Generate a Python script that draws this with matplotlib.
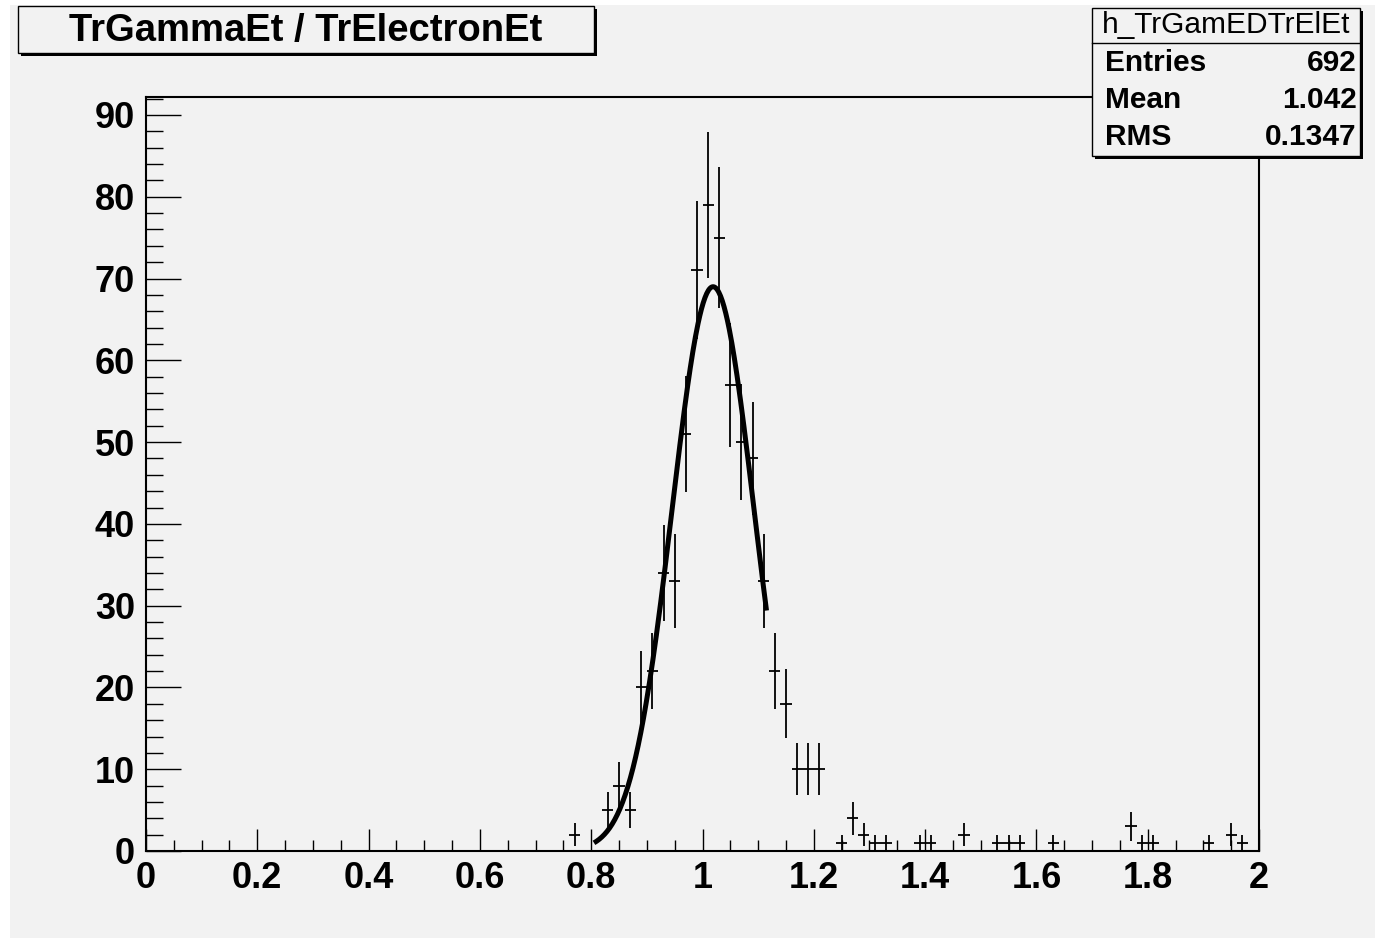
import numpy as np
import matplotlib
matplotlib.use("Agg")
import matplotlib.pyplot as plt
from matplotlib.patches import Rectangle

# ---------------- data ----------------
bin_centers = [0.77, 0.83, 0.85, 0.87, 0.89, 0.91, 0.93, 0.95, 0.97, 0.99,
               1.01, 1.03, 1.05, 1.07, 1.09, 1.11, 1.13, 1.15, 1.17, 1.19,
               1.21, 1.25, 1.27, 1.29, 1.31, 1.33, 1.39, 1.41, 1.47, 1.53,
               1.55, 1.57, 1.63, 1.77, 1.79, 1.81, 1.91, 1.95, 1.97]
counts = [2, 5, 8, 5, 20, 22, 34, 33, 51, 71,
          79, 75, 57, 50, 48, 33, 22, 18, 10, 10,
          10, 1, 4, 2, 1, 1, 1, 1, 2, 1,
          1, 1, 1, 3, 1, 1, 1, 2, 1]
bin_half_width = 0.01

# Gaussian fit parameters
fit_amp = 69.0
fit_mean = 1.019
fit_sigma = 0.0735
fit_range = (0.805, 1.115)

title_text = "TrGammaEt / TrElectronEt"
stats_name = "h_TrGamEDTrElEt"
stats_labels = ["Entries", "Mean", "RMS"]
stats_values = ["692", "1.042", "0.1347"]

x_major = [0, 0.2, 0.4, 0.6, 0.8, 1, 1.2, 1.4, 1.6, 1.8, 2]
x_major_labels = ["0", "0.2", "0.4", "0.6", "0.8", "1", "1.2", "1.4", "1.6", "1.8", "2"]
y_major = [0, 10, 20, 30, 40, 50, 60, 70, 80, 90]

# ---------------- figure ----------------
W, H = 1378, 942
DPI = 100
BG = "#f2f2f2"
FONT = ["Liberation Sans", "DejaVu Sans"]

fig = plt.figure(figsize=(W / DPI, H / DPI), dpi=DPI, facecolor="white")


def fx(px):
    return px / W


def fy(py):
    return 1 - py / H


# canvas gray area
fig.patches.append(Rectangle((fx(10), fy(938)), fx(1375) - fx(10), fy(5) - fy(938),
                             transform=fig.transFigure, facecolor=BG, edgecolor="none", zorder=-10))

ax = fig.add_axes([fx(146), fy(851), fx(1259) - fx(146), fy(97) - fy(851)])
ax.set_zorder(1)
ax.set_facecolor(BG)
ax.set_xlim(0, 2)
ax.set_ylim(0, 92.2)

x = np.array(bin_centers)
y = np.array(counts, dtype=float)
ax.errorbar(x, y, xerr=bin_half_width, yerr=np.sqrt(y), fmt="none",
            ecolor="black", elinewidth=1.3, capsize=0, zorder=3)

xf = np.linspace(fit_range[0], fit_range[1], 200)
yf = fit_amp * np.exp(-0.5 * ((xf - fit_mean) / fit_sigma) ** 2)
ax.plot(xf, yf, color="black", lw=3.6, solid_capstyle="butt", zorder=4)

ax.set_xticks(x_major)
ax.set_xticklabels(x_major_labels)
ax.set_xticks(np.arange(0, 2.0001, 0.05), minor=True)
ax.set_yticks(y_major)
ax.set_yticks(np.arange(0, 92.2, 2), minor=True)

ax.tick_params(axis="x", which="major", direction="in", length=16, width=1.0,
               pad=7, top=False)
ax.tick_params(axis="x", which="minor", direction="in", length=8, width=1.0, top=False)
ax.tick_params(axis="y", which="major", direction="in", length=25, width=1.0,
               pad=8, right=False)
ax.tick_params(axis="y", which="minor", direction="in", length=12.5, width=1.0, right=False)
for lab in ax.get_xticklabels() + ax.get_yticklabels():
    lab.set_fontfamily(FONT)
    lab.set_fontweight("bold")
    lab.set_fontsize(26)

for sp in ax.spines.values():
    sp.set_linewidth(1.5)
    sp.set_color("black")


def pave(x0, y0, x1, y1, shadow=3):
    fig.patches.append(Rectangle((fx(x0 + shadow), fy(y1 + shadow)), fx(x1) - fx(x0), fy(y0) - fy(y1),
                                 transform=fig.transFigure, facecolor="black",
                                 edgecolor="none", zorder=5))
    fig.patches.append(Rectangle((fx(x0), fy(y1)), fx(x1) - fx(x0), fy(y0) - fy(y1),
                                 transform=fig.transFigure, facecolor=BG,
                                 edgecolor="black", lw=1.0, zorder=6))


# title box
pave(18, 6, 594, 53)
fig.text(fx(306), fy(31), title_text, ha="center", va="center", fontsize=27.5,
         fontweight="bold", family=FONT, zorder=7)

# stats box
pave(1092, 8, 1360, 156)
fig.add_artist(plt.Line2D([fx(1092), fx(1360)], [fy(43), fy(43)],
                          transform=fig.transFigure, color="black", lw=1.0, zorder=7))
fig.text(fx(1226), fy(25), stats_name, ha="center", va="center", fontsize=21.5,
         family=FONT, zorder=7)
rows_y = [63, 100, 137]
for lab, val, ry in zip(stats_labels, stats_values, rows_y):
    fig.text(fx(1105), fy(ry), lab, ha="left", va="center", fontsize=21.5,
             fontweight="bold", family=FONT, zorder=7)
    fig.text(fx(1357), fy(ry), val, ha="right", va="center", fontsize=21.5,
             fontweight="bold", family=FONT, zorder=7)

fig.savefig("out.png", dpi=DPI, facecolor="white")
